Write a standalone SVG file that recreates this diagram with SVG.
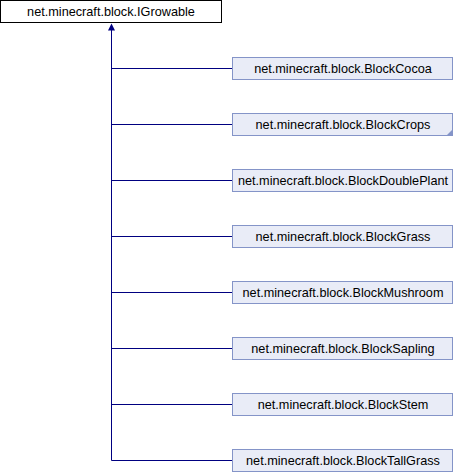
<svg xmlns="http://www.w3.org/2000/svg" width="454" height="472" viewBox="0 0 454 472">
<defs>
<style>
.box{fill:#E9ECF7;stroke:#8494C8;stroke-width:1}
.top{fill:#FFFFFF;stroke:#000000;stroke-width:1}
.lbl{font-family:"Liberation Sans",Arial,sans-serif;font-size:12.7px;fill:#000000;text-anchor:middle}
.edge{fill:none;stroke:#000080;stroke-width:1}
</style>
</defs>
<rect width="454" height="472" fill="#FFFFFF"/>
<g id="connectors">
<path class="edge" d="M111.5,460.5 L111.5,26"/>
<path d="M111.5,23.5 L108,30.5 L115,30.5 Z" fill="#000080"/>
<path class="edge" d="M111.5,68.5 H232.5 M111.5,124.5 H232.5 M111.5,180.5 H232.5 M111.5,236.5 H232.5 M111.5,292.5 H232.5 M111.5,348.5 H232.5 M111.5,404.5 H232.5 M111.5,460.5 H232.5"/>
</g>
<g id="IGrowable">
<rect class="top" x="0.5" y="0.5" width="221" height="22"/>
<text class="lbl" x="111" y="16">net.minecraft.block.IGrowable</text>
</g>
<g id="BlockCocoa">
<rect class="box" x="232.5" y="57.5" width="220" height="22"/>
<text class="lbl" x="343" y="72.5">net.minecraft.block.BlockCocoa</text>
</g>
<g id="BlockCrops">
<rect class="box" x="232.5" y="113.5" width="220" height="22"/>
<path d="M452.5,129.5 L452.5,135.5 L446.5,135.5 Z" fill="#8494C8"/>
<text class="lbl" x="343" y="128.5">net.minecraft.block.BlockCrops</text>
</g>
<g id="BlockDoublePlant">
<rect class="box" x="232.5" y="169.5" width="220" height="22"/>
<text class="lbl" x="343" y="184.5">net.minecraft.block.BlockDoublePlant</text>
</g>
<g id="BlockGrass">
<rect class="box" x="232.5" y="225.5" width="220" height="22"/>
<text class="lbl" x="343" y="240.5">net.minecraft.block.BlockGrass</text>
</g>
<g id="BlockMushroom">
<rect class="box" x="232.5" y="281.5" width="220" height="22"/>
<text class="lbl" x="343" y="296.5">net.minecraft.block.BlockMushroom</text>
</g>
<g id="BlockSapling">
<rect class="box" x="232.5" y="337.5" width="220" height="22"/>
<text class="lbl" x="343" y="352.5">net.minecraft.block.BlockSapling</text>
</g>
<g id="BlockStem">
<rect class="box" x="232.5" y="393.5" width="220" height="22"/>
<text class="lbl" x="343" y="408.5">net.minecraft.block.BlockStem</text>
</g>
<g id="BlockTallGrass">
<rect class="box" x="232.5" y="449.5" width="220" height="22"/>
<text class="lbl" x="343" y="464.5">net.minecraft.block.BlockTallGrass</text>
</g>
</svg>
